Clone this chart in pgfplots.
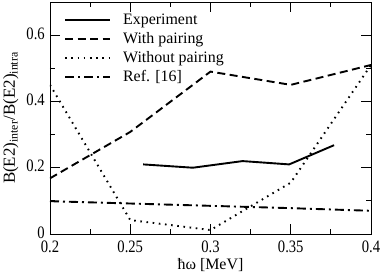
\documentclass[border=0pt]{standalone}
\usepackage{pgfplots}
\pgfplotsset{compat=1.18}
\usepackage{fontspec}
\setmainfont{Liberation Serif}
\newfontfamily\tickfont{Liberation Serif}[FakeStretch=0.84]
\newcommand\tickf{\tickfont\fontsize{17.5}{21}\selectfont}
\newcommand\legf{\fontsize{16}{19}\selectfont}
\newcommand\ylf{\fontsize{17}{20}\selectfont}
\begin{document}
\legf
\begin{tikzpicture}[x=1bp,y=1bp,font=\legf]
\begin{axis}[
  scale only axis,
  width=321bp, height=232bp,
  at={(0,0)}, anchor=south west,
  font=\legf,
  xmin=0.2, xmax=0.4, ymin=0, ymax=0.7,
  xtick={0.2,0.25,0.3,0.35,0.4},
  xticklabels={0.2,0.25,0.3,0.35,0.4},
  minor xtick={0.225,0.275,0.325,0.375},
  ytick={0,0.2,0.4,0.6},
  yticklabels={0,0.2,0.4,0.6},
  minor ytick={0.1,0.3,0.5},
  tick align=inside,
  major tick length=10bp, minor tick length=5bp,
  tick style={black, line width=0.8pt},
  axis line style={line width=0.8pt},
  every tick label/.append style={font=\tickf, inner sep=0bp},
  xticklabel style={anchor=north, yshift=-6.5bp},
  yticklabel style={anchor=east, xshift=-5bp, yshift=1.5bp},
  xlabel={ħω [MeV]},
  ylabel={B(E2)\textsubscript{inter}/B(E2)\textsubscript{intra}},
  xlabel style={font=\legf, inner sep=0bp, at={(axis description cs:0.5,0)}, anchor=north, yshift=-24bp},
  ylabel style={font=\ylf, inner sep=0bp, at={(axis description cs:-0.1464,0.5)}, anchor=north},
  legend style={draw=none, fill=none, at={(axis description cs:0.0436,0.9547)}, anchor=north west,
    font=\legf, row sep=3.6bp, inner sep=0bp, nodes={inner sep=1bp},
    /tikz/every odd column/.append style={column sep=11bp}},
  legend cell align=left,
  legend image code/.code={\draw[#1] (0bp,0bp) -- (45bp,0bp);},
]
\addplot[black, line width=1.9bp] coordinates {
 (0.258,0.21) (0.289,0.200) (0.320,0.220) (0.349,0.210) (0.377,0.268)};
\addlegendentry{Experiment}
\addplot[black, line width=1.9bp, dash pattern=on 8bp off 4.5bp] coordinates {
 (0.2,0.168) (0.25,0.308) (0.3,0.490) (0.35,0.450) (0.4,0.510)};
\addlegendentry{With pairing}
\addplot[black, line width=1.9bp, dash pattern=on 1.6bp off 4.6bp] coordinates {
 (0.2,0.450) (0.25,0.042) (0.3,0.012) (0.35,0.155) (0.4,0.510)};
\addlegendentry{Without pairing}
\addplot[black, line width=1.9bp, dash pattern=on 9bp off 4bp on 2bp off 4bp] coordinates {
 (0.2,0.099) (0.25,0.092) (0.3,0.085) (0.35,0.078) (0.4,0.070)};
\addlegendentry{Ref. [16]}
\end{axis}
\pgfresetboundingbox
\path[use as bounding box] (-50bp,-39bp) rectangle (332bp,234bp);
\end{tikzpicture}
\end{document}
